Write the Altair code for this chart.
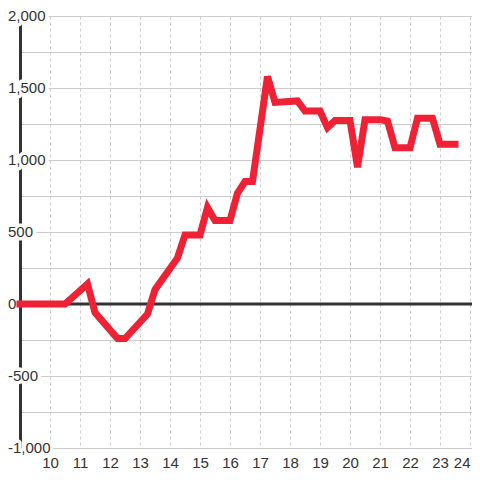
import altair as alt
import pandas as pd

# ---- data ----
hours = [9.0, 10.5, 11.25, 11.5, 12.25, 12.5, 13.25, 13.5, 14.25, 14.5,
         15.0, 15.25, 15.5, 16.0, 16.25, 16.5, 16.75, 17.25, 17.5, 18.25,
         18.5, 19.0, 19.25, 19.5, 20.0, 20.25, 20.5, 21.0, 21.25, 21.5,
         22.0, 22.25, 22.75, 23.0, 23.5]
values = [0, 0, 140, -60, -240, -240, -70, 100, 320, 480,
          480, 670, 580, 580, 770, 850, 850, 1580, 1400, 1410,
          1340, 1340, 1225, 1275, 1275, 950, 1280, 1280, 1270, 1085,
          1085, 1290, 1290, 1110, 1110]
x_ticks = list(range(10, 25))
y_grid = list(range(-1000, 2001, 250))
y_label_values = [-1000, -500, 0, 500, 1000, 1500, 2000]
zero_value = [0]

line_df = pd.DataFrame({"h": hours, "v": values})
lab_df = pd.DataFrame({"v": y_label_values,
                       "t": [f"{v:,}" for v in y_label_values]})
zero_df = pd.DataFrame({"v": zero_value})

FONT = "Liberation Sans"
TXT = "#333333"
PLOT_W = 452
X_MIN, X_MAX = 9.0, 9.0 + PLOT_W / 30

xscale = alt.Scale(domain=[X_MIN, X_MAX], nice=False, zero=False)
yscale = alt.Scale(domain=[-1000, 2000], nice=False, zero=False)

yaxis = alt.Axis(values=y_grid, grid=True, gridColor="#cccccc",
                 gridWidth=1, domain=True, domainColor="#333333",
                 domainWidth=3, ticks=False, labels=False, title=None,
                 zindex=0)


def yenc():
    return alt.Y("v:Q", scale=yscale, axis=yaxis, title=None)


line = alt.Chart(line_df).mark_line(
    color="#ee2135", strokeWidth=7, strokeCap="square", strokeJoin="miter"
).encode(
    x=alt.X("h:Q", scale=xscale, title=None,
            axis=alt.Axis(values=x_ticks, grid=True, gridDash=[3, 3],
                          gridColor="#cccccc", gridWidth=1, domain=False,
                          ticks=False, labelFontSize=15, labelFont=FONT,
                          labelColor=TXT, labelPadding=7, labelFlush=5,
                          labelOverlap=False, zindex=0)),
    y=yenc(),
)

zero = alt.Chart(zero_df).mark_rule(color="#333333", strokeWidth=3).encode(
    y=yenc()
)

label_bg = alt.Chart(lab_df).mark_text(
    align="left", baseline="middle", dx=-12, fontSize=15, font=FONT,
    color="white", stroke="white", strokeWidth=7, strokeJoin="round"
).encode(x=alt.value(0), y=yenc(), text="t:N")

label_fg = alt.Chart(lab_df).mark_text(
    align="left", baseline="middle", dx=-12, fontSize=15, font=FONT,
    color=TXT
).encode(x=alt.value(0), y=yenc(), text="t:N")

chart = alt.layer(zero, label_bg, label_fg, line).properties(
    width=PLOT_W, height=432,
    padding={"left": 12, "top": 8, "right": 0, "bottom": 24},
    autosize=alt.AutoSizeParams(type="none"),
    background="white",
).configure_view(stroke=None)

chart.save("out.html", embed_options={"renderer": "svg", "actions": False})
